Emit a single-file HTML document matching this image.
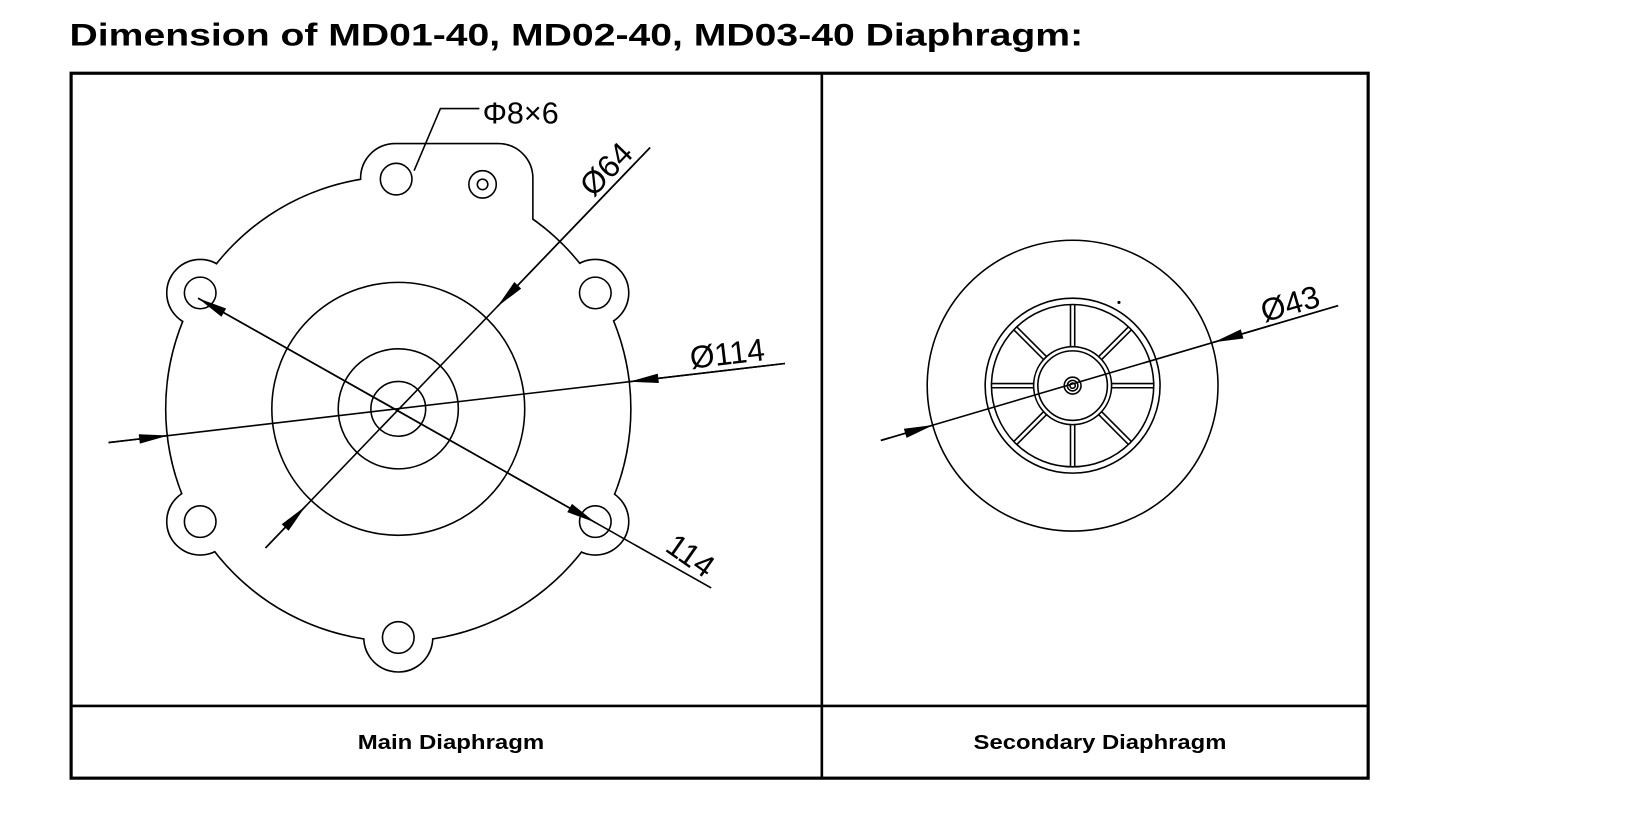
<!DOCTYPE html>
<html><head><meta charset="utf-8"><style>
html,body{margin:0;padding:0;background:#fff;}
svg{display:block;}
text{font-family:"Liberation Sans",sans-serif;}
</style></head><body>
<svg width="1650" height="834" viewBox="0 0 1566 791.5" preserveAspectRatio="none" xmlns="http://www.w3.org/2000/svg">
<defs>
<marker id="a" markerUnits="userSpaceOnUse" markerWidth="40" markerHeight="20" viewBox="-30 -10 40 20" refX="0" refY="0" orient="auto">
<path d="M0,0 L-28,-4.5 L-28,4.5 z" fill="#000"/>
</marker>
</defs>
<text x="66" y="43" font-size="30" font-weight="bold" textLength="962" lengthAdjust="spacingAndGlyphs">Dimension of MD01-40, MD02-40, MD03-40 Diaphragm:</text>
<rect x="67.5" y="69.5" width="1231" height="669" fill="none" stroke="#000" stroke-width="3"/>
<line x1="780" y1="69" x2="780" y2="739" stroke="#000" stroke-width="2.5"/>
<line x1="67" y1="670" x2="1299" y2="670" stroke="#000" stroke-width="2.5"/>
<text x="428" y="711" font-size="19" font-weight="bold" text-anchor="middle" textLength="177" lengthAdjust="spacingAndGlyphs">Main Diaphragm</text>
<text x="1044" y="711" font-size="19" font-weight="bold" text-anchor="middle" textLength="240" lengthAdjust="spacingAndGlyphs">Secondary Diaphragm</text>

<g stroke="#000" stroke-width="3" fill="none">
<circle cx="378" cy="388" r="220"/>
<circle cx="190" cy="278" r="31"/><circle cx="565" cy="278" r="31"/>
<circle cx="190" cy="495" r="31"/><circle cx="565" cy="495" r="31"/>
<circle cx="378" cy="605" r="32"/>
<rect x="343" y="137" width="162" height="110" rx="32"/>
</g>
<g fill="#fff">
<circle cx="378" cy="388" r="220"/>
<circle cx="190" cy="278" r="31"/><circle cx="565" cy="278" r="31"/>
<circle cx="190" cy="495" r="31"/><circle cx="565" cy="495" r="31"/>
<circle cx="378" cy="605" r="32"/>
<rect x="343" y="137" width="162" height="110" rx="32"/>
</g>
<g stroke="#000" stroke-width="1.5" fill="none">
<circle cx="378" cy="388" r="120"/>
<circle cx="378" cy="388" r="57"/>
<circle cx="378" cy="388" r="26"/>
<circle cx="190" cy="278" r="15"/><circle cx="565" cy="278" r="15"/>
<circle cx="190" cy="495" r="15"/><circle cx="565" cy="495" r="15"/>
<circle cx="378" cy="605" r="15"/>
<circle cx="376" cy="170" r="15"/>
<circle cx="458" cy="175" r="13"/><circle cx="458" cy="175" r="5"/>
<polyline points="455,103 418,103 393,162"/>
<line x1="252" y1="520" x2="617" y2="140"/>
<line x1="252" y1="520" x2="290" y2="480.4" marker-end="url(#a)"/>
<line x1="617" y1="140" x2="472" y2="291" marker-end="url(#a)"/>
<line x1="103" y1="420" x2="745" y2="345"/>
<line x1="103" y1="420" x2="160" y2="413.3" marker-end="url(#a)"/>
<line x1="745" y1="345" x2="597" y2="362.3" marker-end="url(#a)"/>
<line x1="188" y1="283" x2="675" y2="558"/>
<line x1="378" y1="390" x2="188" y2="283" marker-end="url(#a)"/>
<line x1="378" y1="390" x2="565" y2="495.9" marker-end="url(#a)"/>
</g>
<text x="458" y="117" font-size="29">Φ8×6</text>
<text transform="translate(563,188) rotate(-46)" font-size="30">Ø64</text>
<text transform="translate(656,350) rotate(-6.7)" font-size="30">Ø114</text>
<text transform="translate(630,522) rotate(35)" font-size="30">114</text>

<g stroke="#000" stroke-width="1.5" fill="none">
<circle cx="1018" cy="366" r="138"/>
<circle cx="1018" cy="366" r="83"/>
<circle cx="1018" cy="366" r="77"/>
<circle cx="1018" cy="366" r="37"/>
<circle cx="1018" cy="366" r="33"/>
<circle cx="1018" cy="366" r="8"/>
<circle cx="1018" cy="366" r="5"/>
<circle cx="1018" cy="366" r="2.5"/>
<g transform="translate(1018,366)">
<g id="sp"><line x1="-2" y1="-37" x2="-2" y2="-77"/><line x1="2" y1="-37" x2="2" y2="-77"/></g>
<use href="#sp" transform="rotate(45)"/><use href="#sp" transform="rotate(90)"/>
<use href="#sp" transform="rotate(135)"/><use href="#sp" transform="rotate(180)"/>
<use href="#sp" transform="rotate(225)"/><use href="#sp" transform="rotate(270)"/>
<use href="#sp" transform="rotate(315)"/>
</g>
<line x1="836" y1="418" x2="1270" y2="290"/>
<line x1="836" y1="418" x2="886" y2="403.3" marker-end="url(#a)"/>
<line x1="1270" y1="290" x2="1152" y2="324.8" marker-end="url(#a)"/>
</g>
<circle cx="1062" cy="287" r="1.5" fill="#000"/>
<text transform="translate(1200,306) rotate(-16)" font-size="30">Ø43</text>
</svg>
</body></html>
